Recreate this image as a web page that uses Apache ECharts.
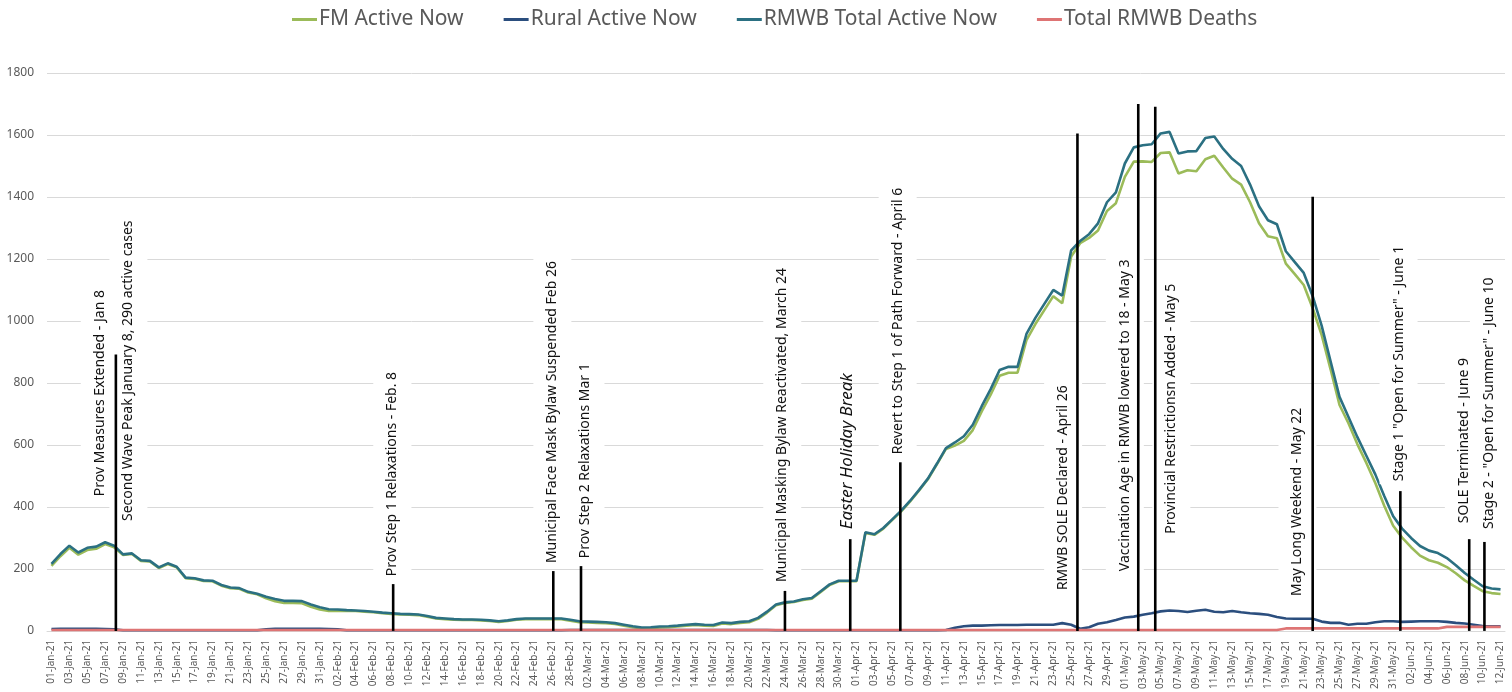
<!DOCTYPE html>
<html><head><meta charset="utf-8">
<script src="https://cdn.jsdelivr.net/npm/echarts/dist/echarts.min.js"></script>
<style>html,body{margin:0;padding:0;background:#fff}#chart{width:1512px;height:692px}</style>
</head><body><div id="chart"></div>
<script>
// ---------- DATA ----------
const firstDay = '2021-01-01';
const dayCount = 163; // 01-Jan-21 .. 12-Jun-21
const seriesNames = ['FM Active Now', 'Rural Active Now', 'RMWB Total Active Now', 'Total RMWB Deaths'];
const yTicks = [0, 200, 400, 600, 800, 1000, 1200, 1400, 1600, 1800];

const fmActive = [
 210,241,268,246,261,265,280,270,245,248,
 226,224,203,216,205,170,168,161,160,146,
 138,136,124,118,105,96,90,90,89,78,
 69,64,64,65,64,62,60,57,55,53,
 52,51,46,40,38,36,35,35,34,32,
 29,32,36,38,38,38,38,38,33,28,
 27,26,25,22,17,12,8,9,11,12,
 14,17,19,17,16,24,22,26,28,39,
 59,83,90,93,100,104,126,148,160,160,
 160,316,310,330,358,386,418,453,490,538,
 587,598,613,648,708,762,823,833,833,938,
 990,1035,1080,1057,1208,1251,1268,1292,1355,1380,
 1465,1514,1515,1513,1542,1544,1476,1486,1483,1522,
 1533,1495,1459,1440,1383,1315,1273,1267,1185,1151,
 1116,1041,955,844,729,670,602,542,477,404,
 339,301,270,243,228,220,206,186,163,145,
 128,122,119];

const ruralActive = [
 6,7,7,7,7,7,6,5,2,2,
 2,2,2,2,2,2,2,2,2,2,
 2,2,2,2,5,7,7,7,7,7,
 7,6,5,2,2,2,2,2,2,2,
 2,2,2,2,2,2,2,2,2,2,
 2,2,2,2,2,2,2,2,3,3,
 3,3,3,3,3,3,3,3,3,3,
 3,3,3,3,3,3,3,3,3,3,
 3,2,2,2,2,2,2,2,2,2,
 2,2,2,2,2,2,2,2,2,2,
 3,10,15,17,17,18,19,19,19,20,
 20,20,20,25,20,7,12,23,28,35,
 43,46,52,57,63,66,64,61,65,68,
 62,60,64,60,57,55,52,45,40,39,
 39,39,30,26,26,20,23,23,28,31,
 31,29,30,31,31,31,29,26,24,20,
 16,15,15];

const rmwbTotalActive = [
 216,248,275,253,268,272,286,275,247,250,
 228,226,205,218,207,172,170,163,162,148,
 140,138,126,120,110,103,97,97,96,85,
 76,70,69,67,66,64,62,59,57,55,
 54,53,48,42,40,38,37,37,36,34,
 31,34,38,40,40,40,40,40,36,31,
 30,29,28,25,20,15,11,12,14,15,
 17,20,22,20,19,27,25,29,31,42,
 62,85,92,95,102,106,128,150,162,162,
 162,318,312,332,360,388,420,455,492,540,
 590,608,628,665,725,780,842,852,852,958,
 1010,1055,1100,1082,1228,1258,1280,1315,1383,1415,
 1508,1560,1567,1570,1605,1610,1540,1547,1548,1590,
 1595,1555,1523,1500,1440,1370,1325,1312,1225,1190,
 1155,1080,985,870,755,690,625,565,505,435,
 370,330,300,274,259,251,235,212,187,165,
 144,137,134];

const totalDeaths = [
 3,3,3,3,3,3,3,3,3,3, 3,3,3,3,3,3,3,3,3,3,
 3,3,3,3,3,3,3,3,3,3, 3,3,3,3,3,3,3,3,3,3,
 3,3,3,3,3,3,3,3,3,3, 3,3,3,3,3,3,3,3,3,3,
 3,3,3,3,3,3,3,3,3,3, 3,3,3,3,3,3,3,3,3,3,
 3,3,3,3,3,3,3,3,3,3, 3,3,3,3,3,3,3,3,3,3,
 3,3,3,3,3,3,3,3,3,3, 3,3,3,3,3,3,3,3,3,3,
 3,3,3,3,3,3,3,3,3,3, 3,3,3,3,3,3,3,3,8,8,
 8,8,8,8,8,8,8,8,8,8, 8,8,8,8,8,8,13,13,13,13,
 13,13,13];

// event lines: position in days from 01-Jan-21 and height of the line (in cases)
const eventDay = [7.2, 38.2, 56.1, 59.2, 82, 89.3, 94.9, 114.7, 121.5, 123.4, 141, 150.8, 158.5, 160.2];
const eventTop = [892, 151, 193, 209, 129, 296, 544, 1605, 1700, 1691, 1401, 451, 296, 287];

// event notes
const noteText = [
 'Prov Measures Extended - Jan 8',
 'Second Wave Peak January 8, 290 active cases',
 'Prov Step 1 Relaxations - Feb. 8',
 'Municipal Face Mask Bylaw Suspended Feb 26',
 'Prov Step 2 Relaxations Mar 1',
 'Municipal Masking Bylaw Reactivated, March 24',
 'Easter Holiday Break',
 'Revert to Step 1 of Path Forward - April 6',
 'RMWB SOLE Declared - April 26',
 'Vaccination Age in RMWB lowered to 18 - May 3',
 'Provincial Restrictionsn Added - May 5',
 'May Long Weekend - May 22',
 'Stage 1 "Open for Summer" - June 1',
 'SOLE Terminated - June 9',
 'Stage 2 - "Open for Summer" - June 10'
];

// ---------- LAYOUT (note anchors: day position, value at text start) ----------
const noteAnchor = [
 [5.4, 425], [8.6, 345], [38.1, 167], [56.0, 209], [59.7, 225], [81.7, 148],
 [89.0, 328], [94.6, 560], [113.1, 122], [120.0, 183], [125.2, 304],
 [139.3, 103], [150.6, 473], [157.9, 338], [160.7, 319]
];
const noteItalic = [false,false,false,false,false,false,true,false,false,false,false,false,false,false,false];

const colors = ['#9BBB59', '#2B4E7E', '#2B7082', '#DE7474'];

// ---------- BUILD ----------
const monthNames = ['Jan','Feb','Mar','Apr','May','Jun','Jul','Aug','Sep','Oct','Nov','Dec'];
const categories = [];
{
  const d0 = new Date(firstDay + 'T00:00:00Z');
  for (let i = 0; i < dayCount; i++) {
    const d = new Date(d0.getTime() + i * 86400000);
    const dd = String(d.getUTCDate()).padStart(2, '0');
    categories.push(dd + '-' + monthNames[d.getUTCMonth()] + '-' + String(d.getUTCFullYear()).slice(2));
  }
}
const valuesList = [fmActive, ruralActive, rmwbTotalActive, totalDeaths];
const FONT = '"Noto Sans", "Open Sans", sans-serif';

const lineSeries = seriesNames.map((n, k) => ({
  name: n, type: 'line', data: valuesList[k], showSymbol: false, symbol: 'none',
  xAxisIndex: 0, yAxisIndex: 0,
  lineStyle: { width: 2.6, color: colors[k] }, itemStyle: { color: colors[k] },
  z: 2 + k * 0.01, animation: false
}));

const chart = echarts.init(document.getElementById('chart'), null, { renderer: 'canvas' });
chart.setOption({
  animation: false,
  color: colors,
  textStyle: { fontFamily: FONT },
  legend: {
    data: seriesNames, top: 4, left: 287, itemGap: 40,
    icon: 'path://M0,0 L25,0 L25,3 L0,3 Z', itemWidth: 25, itemHeight: 3,
    textStyle: { fontSize: 21, color: '#595959', fontFamily: FONT, padding: [0,0,0,-3] }
  },
  grid: { left: 47, right: 7, top: 73, bottom: 60, containLabel: false },
  xAxis: [{
    type: 'category', data: categories, boundaryGap: true,
    axisLine: { show: true, lineStyle: { color: '#D9D9D9' } },
    axisTick: { show: false },
    axisLabel: { interval: 1, rotate: 90, fontSize: 10, color: '#595959', margin: 9, fontFamily: FONT }
  }, {
    type: 'value', min: -0.5, max: dayCount - 0.5, show: false
  }],
  yAxis: {
    type: 'value', min: yTicks[0], max: yTicks[yTicks.length - 1], interval: yTicks[1] - yTicks[0],
    axisLine: { show: false }, axisTick: { show: false },
    axisLabel: { fontSize: 12, color: '#595959', margin: 13, fontFamily: FONT, formatter: v => String(v) },
    splitLine: { lineStyle: { color: '#D9D9D9', width: 1 } }
  },
  series: lineSeries.concat([
    {
      type: 'custom', xAxisIndex: 1, yAxisIndex: 0, z: 5, silent: true, clip: false,
      data: noteAnchor,
      renderItem: function (params, api) {
        const idx = params.dataIndex;
        const p = api.coord([api.value(0), api.value(1)]);
        const italic = noteItalic[idx];
        return {
          type: 'text', x: p[0], y: p[1], rotation: Math.PI / 2,
          style: {
            text: noteText[idx], fill: '#111',
            font: (italic ? 'italic 17px ' : '14px ') + FONT,
            align: 'left', verticalAlign: 'middle',
            backgroundColor: italic ? null : '#fff',
            padding: italic ? 0 : [12, 3, 12, 3]
          }
        };
      }
    },
    {
      type: 'custom', xAxisIndex: 1, yAxisIndex: 0, z: 6, silent: true, clip: false,
      data: eventDay.map((d, i) => [d, eventTop[i]]),
      renderItem: function (params, api) {
        const p0 = api.coord([api.value(0), 0]);
        const p1 = api.coord([api.value(0), api.value(1)]);
        return { type: 'line', shape: { x1: p0[0], y1: p0[1], x2: p1[0], y2: p1[1] },
                 style: { stroke: '#000', lineWidth: 2.6 } };
      }
    }
  ])
});
</script></body></html>
